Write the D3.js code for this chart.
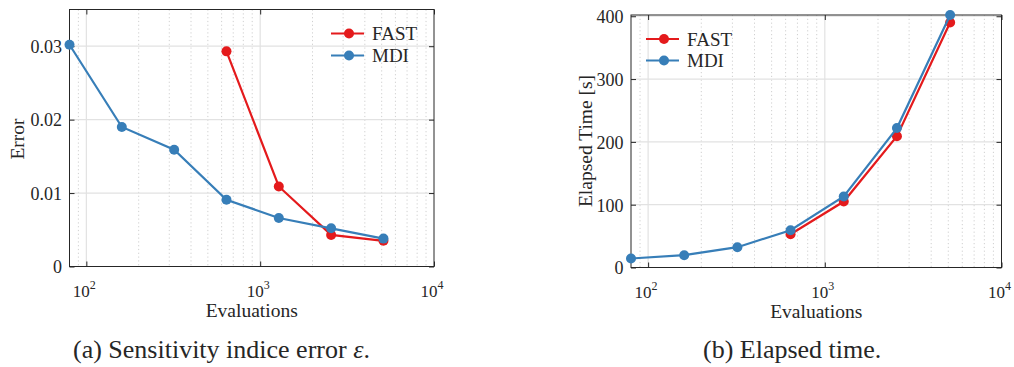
<!DOCTYPE html>
<html><head><meta charset="utf-8">
<script src="https://cdn.jsdelivr.net/npm/d3@7"></script>
<style>body{margin:0;background:#fff}svg{display:block}text{font-family:"Liberation Serif",serif;fill:#262626}</style>
</head><body>
<svg id="c" width="1014" height="367"></svg>
<script>
const evaluations = [80, 160, 320, 640, 1280, 2560, 5120];
const fastEval = [640, 1280, 2560, 5120];
const errorMDI = [0.0302, 0.0190, 0.0159, 0.0091, 0.0066, 0.0052, 0.0038];
const errorFAST = [0.0293, 0.0109, 0.0043, 0.0035];
const timeMDI = [14.3, 19.6, 32.3, 59.4, 113, 222, 402];
const timeFAST = [53, 105, 209, 390];
const seriesNames = ["FAST", "MDI"];
const errorTicks = [0, 0.01, 0.02, 0.03];
const errorTickLabels = ["0", "0.01", "0.02", "0.03"];
const timeTicks = [0, 100, 200, 300, 400];
const xTickExps = [2, 3, 4];
const captions = ["(a) Sensitivity indice error ", "(b) Elapsed time."];

const colors = {FAST: "#e41a1c", MDI: "#377eb8"};
const svg = d3.select("#c");

function panel(cfg) {
  const g = svg.append("g");
  const x = d3.scaleLog().domain([80, 10000]).range([cfg.left, cfg.right]);
  const y = d3.scaleLinear().domain(cfg.yDomain).range([cfg.bottom, cfg.top]);
  const minor = [90];
  for (let e = 2; e <= 3; e++) for (let m = 2; m <= 9; m++) minor.push(m * Math.pow(10, e));
  g.selectAll(".mg").data(minor).enter().append("line")
    .attr("x1", d => x(d)).attr("x2", d => x(d)).attr("y1", cfg.top).attr("y2", cfg.bottom)
    .attr("stroke", "#c4c4c4").attr("stroke-width", 0.8).attr("stroke-dasharray", "1.2,2.6");
  const majors = xTickExps.map(e => Math.pow(10, e));
  g.selectAll(".xg").data(majors.slice(0, 2)).enter().append("line")
    .attr("x1", d => x(d)).attr("x2", d => x(d)).attr("y1", cfg.top).attr("y2", cfg.bottom)
    .attr("stroke", "#e2e2e2").attr("stroke-width", 1.2);
  g.selectAll(".yg").data(cfg.yTicks.slice(1)).enter().append("line")
    .attr("x1", cfg.left).attr("x2", cfg.right).attr("y1", d => y(d)).attr("y2", d => y(d))
    .attr("stroke", "#e2e2e2").attr("stroke-width", 1.2);
  g.append("rect").attr("x", cfg.left).attr("y", cfg.top).attr("width", cfg.right - cfg.left).attr("height", cfg.bottom - cfg.top)
    .attr("fill", "none").attr("stroke", "#262626").attr("stroke-width", 1);
  g.append("g").attr("transform", `translate(0,${cfg.bottom})`).call(d3.axisBottom(x).tickValues(majors).tickSize(-5).tickFormat(""))
    .call(s => s.select(".domain").remove()).selectAll("line").attr("stroke", "#262626");
  g.append("g").attr("transform", `translate(0,${cfg.top})`).call(d3.axisTop(x).tickValues(majors).tickSize(-5).tickFormat(""))
    .call(s => s.select(".domain").remove()).selectAll("line").attr("stroke", "#262626");
  const ya = g.append("g").attr("transform", `translate(${cfg.left},0)`)
    .call(d3.axisLeft(y).tickValues(cfg.yTicks).tickSize(-5).tickPadding(7.5).tickFormat((d, i) => cfg.yLabels[i]));
  ya.attr("font-family", null).attr("font-size", null);
  ya.select(".domain").remove();
  ya.selectAll("line").attr("stroke", "#262626");
  ya.selectAll("text").attr("font-size", 18).attr("fill", "#262626").attr("dy", "0.35em");
  g.append("g").attr("transform", `translate(${cfg.right},0)`).call(d3.axisRight(y).tickValues(cfg.yTicks).tickSize(-5).tickFormat(""))
    .call(s => s.select(".domain").remove()).selectAll("line").attr("stroke", "#262626");
  xTickExps.forEach(e => {
    const t = g.append("text").attr("x", x(Math.pow(10, e)) - 2).attr("y", cfg.bottom + 30).attr("text-anchor", "middle").attr("font-size", 17);
    t.append("tspan").text("10");
    t.append("tspan").attr("dy", -8).attr("font-size", 12).text(e);
  });
  g.append("text").attr("x", (cfg.left + cfg.right) / 2).attr("y", cfg.bottom + 50).attr("text-anchor", "middle").attr("font-size", 19.5).text("Evaluations");
  g.append("text").attr("transform", `translate(${cfg.ylabX},${cfg.ylabY}) rotate(-90)`).attr("text-anchor", "middle")
    .attr("dy", "0.35em").attr("font-size", 19.5).text(cfg.ylabel);
  const line = d3.line().x(d => x(d[0])).y(d => y(d[1]));
  const series = [
    {name: "FAST", pts: fastEval.map((v, i) => [v, cfg.fast[i]])},
    {name: "MDI", pts: evaluations.map((v, i) => [v, cfg.mdi[i]])}
  ];
  series.forEach(s => {
    g.append("path").datum(s.pts).attr("d", line).attr("fill", "none").attr("stroke", colors[s.name]).attr("stroke-width", 2.2);
    g.selectAll(null).data(s.pts).enter().append("circle").attr("cx", d => x(d[0])).attr("cy", d => y(d[1])).attr("r", 5).attr("fill", colors[s.name]);
  });
  seriesNames.forEach((n, i) => {
    const ly = cfg.legY + i * cfg.legDy;
    g.append("line").attr("x1", cfg.legX).attr("x2", cfg.legX + 33).attr("y1", ly).attr("y2", ly).attr("stroke", colors[n]).attr("stroke-width", 2.2);
    g.append("circle").attr("cx", cfg.legX + 18).attr("cy", ly).attr("r", 5).attr("fill", colors[n]);
    g.append("text").attr("x", cfg.legX + 41).attr("y", ly).attr("dy", "0.35em").attr("font-size", 19).text(n);
  });
}

panel({left: 69.5, right: 434, top: 9.5, bottom: 266.5, yDomain: [0, 0.035], yTicks: errorTicks, yLabels: errorTickLabels,
  mdi: errorMDI, fast: errorFAST, ylabel: "Error", ylabX: 17, ylabY: 139, legX: 331, legY: 33.5, legDy: 22});
panel({left: 631, right: 1001.5, top: 15, bottom: 267.5, yDomain: [0, 402], yTicks: timeTicks, yLabels: timeTicks.map(String),
  mdi: timeMDI, fast: timeFAST, ylabel: "Elapsed Time [s]", ylabX: 585, ylabY: 141, legX: 646, legY: 39, legDy: 21.5});

const c1 = svg.append("text").attr("x", 73).attr("y", 357.5).attr("font-size", 26);
c1.append("tspan").text(captions[0]);
c1.append("tspan").attr("font-style", "italic").text("ε");
c1.append("tspan").text(".");
svg.append("text").attr("x", 703).attr("y", 357.5).attr("font-size", 26).text(captions[1]);
</script>
</body></html>
